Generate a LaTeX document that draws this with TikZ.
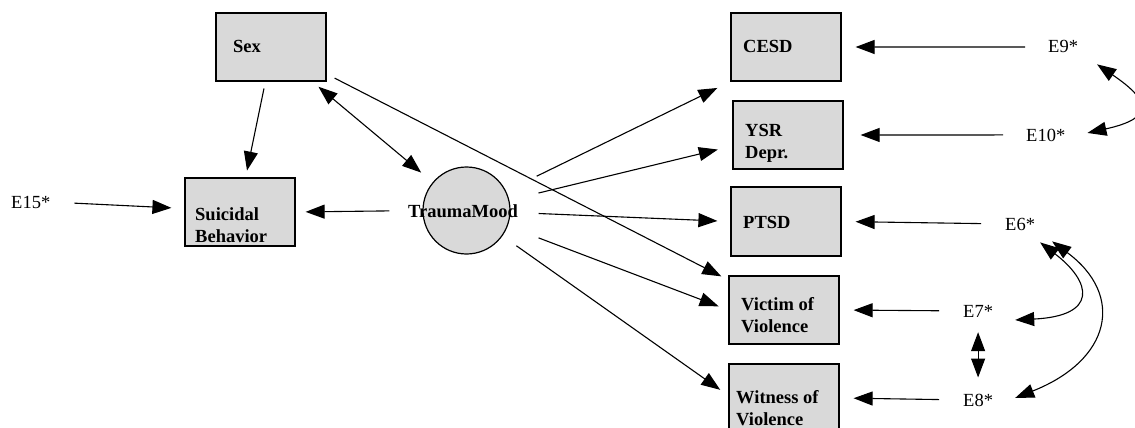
\documentclass[tikz,border=0pt]{standalone}
\usepackage{fontspec}
\setmainfont{Liberation Serif}
\usetikzlibrary{arrows.meta,calc}

\definecolor{boxgray}{HTML}{D9D9D9}

\tikzset{
  var/.style    = {draw, line width=1.2pt, fill=boxgray, minimum width=110pt, minimum height=68pt, inner sep=0pt},
  latent/.style = {draw, line width=1.2pt, fill=boxgray, circle, minimum size=87pt, inner sep=0pt},
  vtxt/.style   = {anchor=base west, inner sep=0pt, align=left, font=\fontsize{18.5}{22}\selectfont\bfseries},
  err/.style    = {anchor=base west, inner sep=0pt, font=\fontsize{18.5}{22}\selectfont},
  path/.style   = {line width=1.1pt, -{Triangle[length=19pt,width=14pt]}},
  cov/.style    = {line width=1.1pt, {Triangle[length=19pt,width=14pt]}-{Triangle[length=19pt,width=14pt]}},
}

\begin{document}
\begin{tikzpicture}[x=1pt, y=-1pt]
        \useasboundingbox (0,0) rectangle (1135,428);
        \clip (0,0) rectangle (1135,428);

        % observed variables
        \node[var] (sex)  at (271,47)    {};
        \node[var] (suic) at (240,212)   {};
        \node[var] (cesd) at (786,47)    {};
        \node[var] (ysr)  at (788,135)   {};
        \node[var, minimum height=69pt] (ptsd) at (786,221.5) {};
        \node[var] (vict) at (784,310)   {};
        \node[var] (witn) at (784,398)   {};

        % labels (base = last line)
        \node[vtxt] (sexT)  at (233,53)  {Sex};
        \node[vtxt] (suicT) at (195,242) {Suicidal\\Behavior};
        \node[vtxt] (cesdT) at (743,53)  {CESD};
        \node[vtxt] (ysrT)  at (745,158) {YSR\\Depr.};
        \node[vtxt] (ptsdT) at (743,228) {PTSD};
        \node[vtxt] (victT) at (741,332) {Victim of\\Violence};
        \node[vtxt] (witnT) at (736,425) {Witness of\\Violence};

        % latent factor
        \node[latent] (tm) at (466.5,210.5) {};
        \node[vtxt] (tmT) at (408,217) {TraumaMood};

        % error terms
        \node[err] (e15) at (11,208)   {E15*};
        \node[err] (e9)  at (1048,53)  {E9*};
        \node[err] (e10) at (1026,141) {E10*};
        \node[err] (e6)  at (1005,230) {E6*};
        \node[err] (e7)  at (963,317)  {E7*};
        \node[err] (e8)  at (963,406)  {E8*};

        % paths
        \draw[path, shorten <=24pt, shorten >=13pt] (e15.east) -- ([yshift=3.5pt]suic.west);
        \draw[path, shorten <=7pt, shorten >=7pt] ([xshift=-5.6pt]sex.south) -- ([xshift=5.6pt]suic.north);
        \draw[cov,  shorten <=8pt, shorten >=15pt] (sex) -- (tm);
        \draw[path, shorten <=9pt, shorten >=8pt] ([yshift=-27pt]sex.east) -- ([yshift=-4.6pt]vict.north west);
        \draw[path, shorten <=33pt, shorten >=10pt] (tm.west) -- (suic.east);

        \draw[path, shorten <=34pt, shorten >=14.5pt] (tm) -- (cesd.south west);
        \draw[path, shorten <=30pt, shorten >=15pt] (tm) -- ([yshift=-11pt]ysr.west);
        \draw[path, shorten <=28pt, shorten >=13pt] (tm) -- (ptsd.west);
        \draw[path, shorten <=33pt, shorten >=10.5pt] (tm) -- (vict.west);
        \draw[path, shorten <=17pt, shorten >=10pt] (tm) -- ([yshift=2.4pt]witn.west);

        % residuals
        \draw[path, shorten <=23pt, shorten >=14pt] (e9.west)  -- (cesd.east);
        \draw[path, shorten <=23pt, shorten >=17pt] (e10.west) -- (ysr.east);
        \draw[path, shorten <=24pt, shorten >=14pt] (e6.west)  -- (ptsd.east);
        \draw[path, shorten <=24pt, shorten >=14pt] (e7.west)  -- (vict.east);
        \draw[path, shorten <=24pt, shorten >=14pt] (e8.west)  -- (witn.east);

        % covariances between errors
        \draw[cov, shorten <=15pt, shorten >=16pt] (e7.south) -- (e8.north);
        \draw[cov] ($(e9.south)+(34,11)$) .. controls +(53,36) and +(68,-15) .. ($(e10.east)+(22,-2)$);
        \draw[cov] ($(e6.south)+(20,12)$) .. controls +(52,40) and +(83,-4) .. ($(e7.east)+(22,9)$);
        \draw[cov] ($(e6.south)+(32,11)$) .. controls +(73,54) and +(96,-38) .. ($(e8.east)+(22,-2)$);
\end{tikzpicture}
\end{document}
